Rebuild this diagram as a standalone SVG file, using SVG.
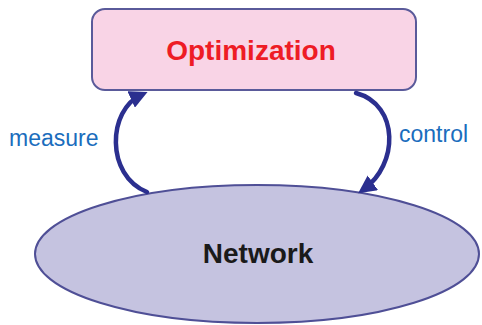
<svg xmlns="http://www.w3.org/2000/svg" width="482" height="325" viewBox="0 0 482 325">
<style>
.lbl{font-family:"Liberation Sans",Arial,sans-serif;font-size:23px;fill:#1a6dbd}
.title{font-family:"Liberation Sans",Arial,sans-serif;font-weight:bold;font-size:28px;text-anchor:middle}
.conn{fill:none;stroke:#2b2f8f;stroke-width:4.5;stroke-linecap:round}
</style>
<defs>
<marker id="ah" viewBox="0 0 10 10" refX="6" refY="5" markerWidth="4" markerHeight="4" orient="auto" markerUnits="strokeWidth">
<path d="M0,0 L10,5 L0,10 z" fill="#2b2f8f"/>
</marker>
</defs>
<g id="network">
<ellipse cx="257" cy="254" rx="222" ry="69" fill="#c5c3e0" stroke="#4f4f96" stroke-width="2"/>
<text class="title" x="258" y="263" fill="#1a1a1a">Network</text>
</g>
<g id="optimization">
<rect x="92" y="9" width="324" height="81" rx="13" fill="#f9d4e6" stroke="#5a5a9a" stroke-width="2"/>
<text class="title" x="251" y="60" fill="#ee1c25">Optimization</text>
</g>
<g id="connectors">
<path class="conn" d="M147,192 C105,175 108,110 141,95" marker-end="url(#ah)"/>
<path class="conn" d="M356,93 C400,105 398,165 364,189" marker-end="url(#ah)"/>
</g>
<text class="lbl" x="9" y="146">measure</text>
<text class="lbl" x="399" y="142">control</text>
</svg>
